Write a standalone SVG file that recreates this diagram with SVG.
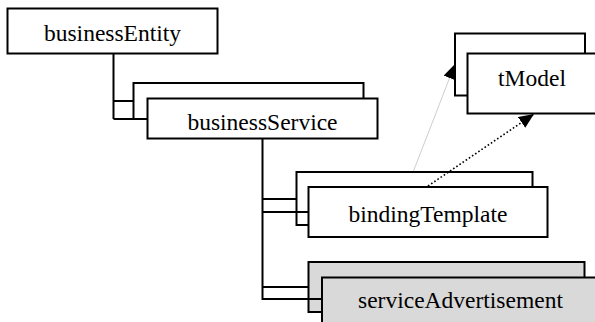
<svg xmlns="http://www.w3.org/2000/svg" width="595" height="322" viewBox="0 0 595 322">
<style>
.box{fill:#fff;stroke:#000;stroke-width:2}
.gbox{fill:#d9d9d9;stroke:#000;stroke-width:2}
.conn{fill:none;stroke:#000;stroke-width:2}
.lbl{font-family:"Liberation Serif","Times New Roman",serif;font-size:23.5px;fill:#000;text-anchor:middle}
</style>
<defs>
<marker id="ah" viewBox="0 0 15 13" refX="15" refY="6.5" markerWidth="15" markerHeight="13" markerUnits="userSpaceOnUse" orient="auto">
<path d="M0,0 L15,6.5 L0,13 Z" fill="#000"/>
</marker>
</defs>
<g id="businessEntity">
<rect class="box" x="7.5" y="8.5" width="210" height="45"/>
<text class="lbl" x="112.5" y="41">businessEntity</text>
</g>
<g id="businessService">
<rect class="box" x="133.5" y="83" width="230" height="36"/>
<rect class="box" x="147.5" y="98.5" width="230" height="40"/>
<text class="lbl" x="262.5" y="130">businessService</text>
</g>
<g id="bindingTemplate">
<rect class="box" x="296.5" y="172" width="236" height="53"/>
<rect class="box" x="308.5" y="187" width="239" height="50"/>
<text class="lbl" x="428" y="222">bindingTemplate</text>
</g>
<g id="serviceAdvertisement">
<rect class="gbox" x="308.5" y="262" width="276" height="50"/>
<rect class="gbox" x="322" y="277.5" width="290" height="60"/>
<text class="lbl" x="460.5" y="308">serviceAdvertisement</text>
</g>
<g id="connectors">
<path class="conn" d="M113.5,53 V119 M113.5,101 H133.5 M113.5,119 H147.5"/>
<path class="conn" d="M262.5,138 V300 M262.5,199 H296.5 M262.5,212 H308.5 M262.5,287 H308.5 M262.5,299 H322"/>
<line x1="413.5" y1="171" x2="455" y2="64" stroke="#c0c0c0" stroke-width="0.8" marker-end="url(#ah)"/>
<line x1="428" y1="186" x2="534" y2="114" stroke="#000" stroke-width="1.6" stroke-dasharray="1.6,2.2" marker-end="url(#ah)"/>
</g>
<g id="tModel">
<rect class="box" x="455" y="33.5" width="130" height="62"/>
<rect class="box" x="467.5" y="53.5" width="140" height="60"/>
<text class="lbl" x="532" y="86">tModel</text>
</g>
</svg>
